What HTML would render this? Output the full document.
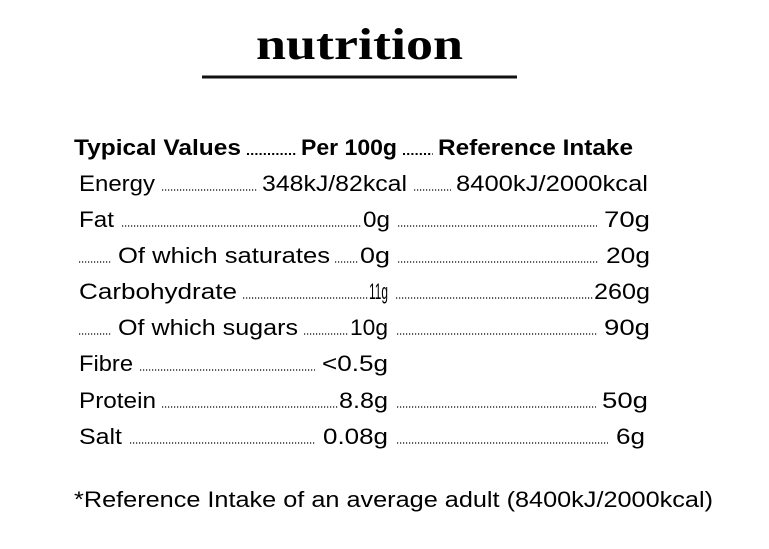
<!DOCTYPE html>
<html><head><meta charset="utf-8"><style>
html,body{margin:0;padding:0;background:#fff;width:769px;height:549px;overflow:hidden}
text{font-family:"Liberation Sans",sans-serif;fill:#000}
.t{font-size:22px}
.b{font-size:22px;font-weight:bold}
.d{stroke:#000;stroke-width:1.3;stroke-dasharray:1.2 1.8}
</style></head><body>
<svg width="769" height="549" viewBox="0 0 769 549">
<text x="256" y="59" textLength="207" lengthAdjust="spacingAndGlyphs" style="font-family:'Liberation Serif',serif;font-weight:bold;font-size:44px">nutrition</text>
<rect x="202" y="75.5" width="315" height="3" fill="#111"/>
<g>
<text class="b" x="74" y="155" textLength="167" lengthAdjust="spacingAndGlyphs">Typical Values</text>
<line class="d" x1="247" x2="296" y1="154" y2="154" style="stroke-width:2;stroke-dasharray:2 2.2"/>
<text class="b" x="301" y="155" textLength="96" lengthAdjust="spacingAndGlyphs">Per 100g</text>
<line class="d" x1="403" x2="433" y1="154" y2="154" style="stroke-width:2;stroke-dasharray:2 2.2"/>
<text class="b" x="438" y="155" textLength="195" lengthAdjust="spacingAndGlyphs">Reference Intake</text>
</g>
<g>
<text class="t" x="79" y="191" textLength="76" lengthAdjust="spacingAndGlyphs">Energy</text>
<line class="d" x1="162" x2="257" y1="190" y2="190"/>
<text class="t" x="262" y="191" textLength="145" lengthAdjust="spacingAndGlyphs">348kJ/82kcal</text>
<line class="d" x1="414" x2="451" y1="190" y2="190"/>
<text class="t" x="456" y="191" textLength="192" lengthAdjust="spacingAndGlyphs">8400kJ/2000kcal</text>
</g>
<g>
<text class="t" x="79" y="227" textLength="35" lengthAdjust="spacingAndGlyphs">Fat</text>
<line class="d" x1="122" x2="362" y1="226" y2="226"/>
<text class="t" x="363" y="227" textLength="27" lengthAdjust="spacingAndGlyphs">0g</text>
<line class="d" x1="398" x2="597" y1="226" y2="226"/>
<text class="t" x="604" y="227" textLength="46" lengthAdjust="spacingAndGlyphs">70g</text>
</g>
<g>
<line class="d" x1="79" x2="112" y1="262" y2="262"/>
<text class="t" x="118" y="263" textLength="212" lengthAdjust="spacingAndGlyphs">Of which saturates</text>
<line class="d" x1="335" x2="358" y1="262" y2="262"/>
<text class="t" x="360" y="263" textLength="30" lengthAdjust="spacingAndGlyphs">0g</text>
<line class="d" x1="398" x2="599" y1="262" y2="262"/>
<text class="t" x="606" y="263" textLength="44" lengthAdjust="spacingAndGlyphs">20g</text>
</g>
<g>
<text class="t" x="79" y="299" textLength="158" lengthAdjust="spacingAndGlyphs">Carbohydrate</text>
<line class="d" x1="243" x2="368" y1="298" y2="298"/>
<text class="t" x="369" y="299" textLength="19" lengthAdjust="spacingAndGlyphs">11g</text>
<line class="d" x1="396" x2="593" y1="298" y2="298"/>
<text class="t" x="594" y="299" textLength="56" lengthAdjust="spacingAndGlyphs">260g</text>
</g>
<g>
<line class="d" x1="79" x2="112" y1="334" y2="334"/>
<text class="t" x="118" y="335" textLength="180" lengthAdjust="spacingAndGlyphs">Of which sugars</text>
<line class="d" x1="304" x2="348" y1="334" y2="334"/>
<text class="t" x="350" y="335" textLength="38" lengthAdjust="spacingAndGlyphs">10g</text>
<line class="d" x1="397" x2="598" y1="334" y2="334"/>
<text class="t" x="604" y="335" textLength="46" lengthAdjust="spacingAndGlyphs">90g</text>
</g>
<g>
<text class="t" x="79" y="371" textLength="54" lengthAdjust="spacingAndGlyphs">Fibre</text>
<line class="d" x1="140" x2="315" y1="370" y2="370"/>
<text class="t" x="322" y="371" textLength="66" lengthAdjust="spacingAndGlyphs">&lt;0.5g</text>
</g>
<g>
<text class="t" x="79" y="408" textLength="77" lengthAdjust="spacingAndGlyphs">Protein</text>
<line class="d" x1="162" x2="338" y1="407" y2="407"/>
<text class="t" x="339" y="408" textLength="49" lengthAdjust="spacingAndGlyphs">8.8g</text>
<line class="d" x1="397" x2="596" y1="407" y2="407"/>
<text class="t" x="602" y="408" textLength="46" lengthAdjust="spacingAndGlyphs">50g</text>
</g>
<g>
<text class="t" x="79" y="444" textLength="43" lengthAdjust="spacingAndGlyphs">Salt</text>
<line class="d" x1="130" x2="316" y1="443" y2="443"/>
<text class="t" x="323" y="444" textLength="65" lengthAdjust="spacingAndGlyphs">0.08g</text>
<line class="d" x1="397" x2="608" y1="443" y2="443"/>
<text class="t" x="616" y="444" textLength="29" lengthAdjust="spacingAndGlyphs">6g</text>
</g>
<text class="t" x="74" y="507" textLength="639" lengthAdjust="spacingAndGlyphs">*Reference Intake of an average adult (8400kJ/2000kcal)</text>
</svg>
</body></html>
